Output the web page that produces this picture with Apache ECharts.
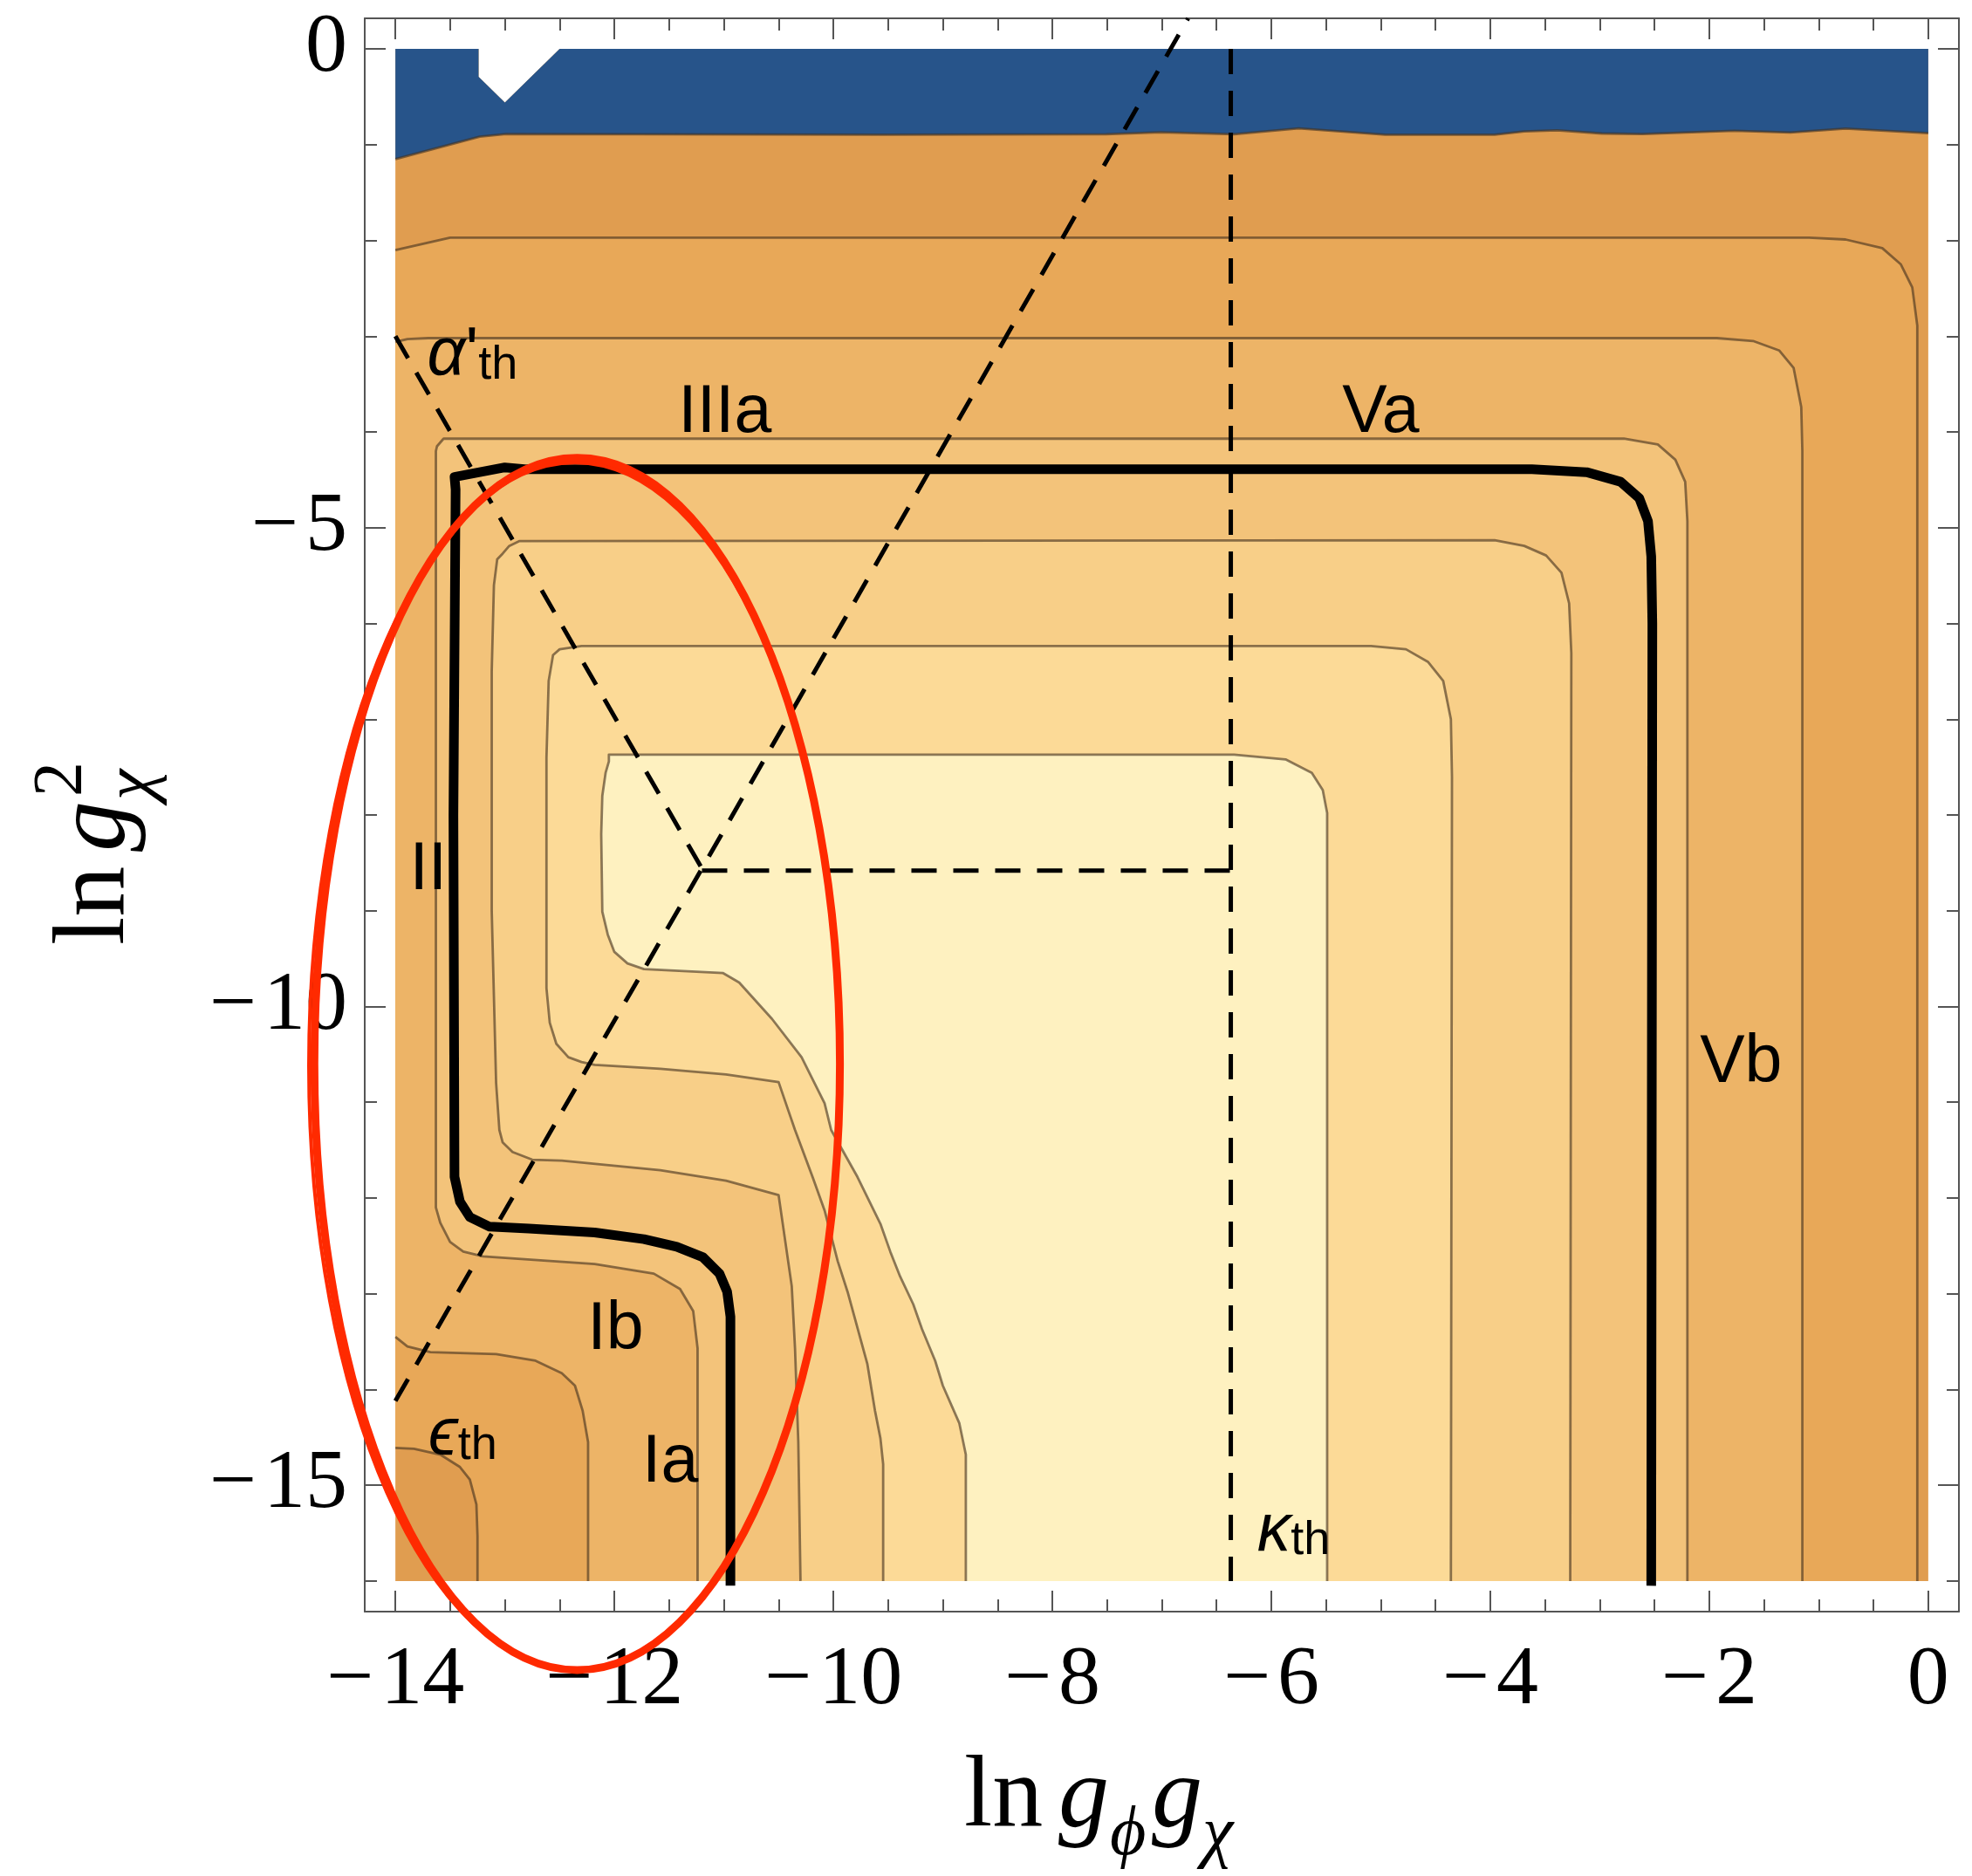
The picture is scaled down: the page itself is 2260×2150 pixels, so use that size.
<!DOCTYPE html>
<html>
<head>
<meta charset="utf-8">
<script src="https://cdn.jsdelivr.net/npm/echarts@6/dist/echarts.min.js"></script>
<style>html,body{margin:0;padding:0;background:#fff}#c{width:2260px;height:2150px}</style>
</head>
<body>
<div id="c"></div>
<script>
// ---------- axis ticks ----------
const xMajorTicks = [-14, -12, -10, -8, -6, -4, -2, 0];
const xMinorTicks = [-14, -13.5, -13, -12.5, -12, -11.5, -11, -10.5, -10, -9.5, -9, -8.5, -8, -7.5, -7, -6.5, -6, -5.5, -5, -4.5, -4, -3.5, -3, -2.5, -2, -1.5, -1, -0.5, 0];
const yMajorTicks = [0, -5, -10, -15];
const yMinorTicks = [0, -1, -2, -3, -4, -5, -6, -7, -8, -9, -10, -11, -12, -13, -14, -15, -16];

// ---------- contour boundaries (ln gφgχ, ln gχ²) ----------
const notch = [[-13.24, 0], [-13.24, -0.29], [-13.0, -0.56], [-12.5, 0]];
const blueEdge = [[-14, -1.15], [-13.23, -0.916], [-12.99, -0.889], [-9.55, -0.896], [-7.51, -0.89], [-7.01, -0.87], [-6.34, -0.89], [-5.75, -0.83], [-4.96, -0.896], [-3.96, -0.896], [-3.69, -0.862], [-3.39, -0.849], [-2.98, -0.883], [-2.61, -0.889], [-1.77, -0.855], [-1.26, -0.873], [-0.755, -0.832], [0, -0.879]];
const c2Top = [[-14, -2.10], [-13.5, -1.97], [-1.09, -1.97], [-0.755, -1.99], [-0.42, -2.08], [-0.25, -2.25], [-0.146, -2.49], [-0.10, -2.89], [-0.10, -16]];
const c2Corner = [[-13.25, -16], [-13.25, -15.53], [-13.26, -15.20], [-13.32, -14.94], [-13.41, -14.81], [-13.59, -14.68], [-13.83, -14.62], [-14, -14.61]];
const c3Top = [[-14, -3.06], [-13.89, -3.03], [-13.7, -3.02], [-1.93, -3.02], [-1.60, -3.05], [-1.36, -3.15], [-1.23, -3.33], [-1.16, -3.74], [-1.15, -4.2], [-1.15, -16]];
const c3Corner = [[-12.24, -16], [-12.24, -14.55], [-12.29, -14.22], [-12.36, -13.96], [-12.48, -13.83], [-12.72, -13.70], [-13.08, -13.63], [-13.68, -13.61], [-13.89, -13.55], [-14, -13.45]];
const c4 = [[-11.24, -16], [-11.24, -13.57], [-11.28, -13.18], [-11.40, -12.95], [-11.64, -12.79], [-12.18, -12.69], [-13.20, -12.61], [-13.38, -12.56], [-13.50, -12.46], [-13.59, -12.26], [-13.63, -12.10], [-13.63, -4.2], [-13.62, -4.15], [-13.56, -4.07], [-2.78, -4.07], [-2.47, -4.13], [-2.31, -4.29], [-2.22, -4.52], [-2.20, -4.93], [-2.20, -16]];
const c5 = [[-10.30, -16], [-10.32, -14.55], [-10.35, -13.57], [-10.38, -12.92], [-10.50, -11.97], [-10.98, -11.82], [-11.58, -11.71], [-12.48, -11.61], [-12.75, -11.60], [-12.93, -11.52], [-13.02, -11.42], [-13.05, -11.29], [-13.08, -10.8], [-13.12, -9.0], [-13.12, -6.5], [-13.10, -5.6], [-13.07, -5.33], [-13.02, -5.27], [-12.96, -5.19], [-12.87, -5.14], [-3.96, -5.13], [-3.69, -5.19], [-3.49, -5.29], [-3.35, -5.47], [-3.28, -5.79], [-3.26, -6.31], [-3.27, -16]];
const c6 = [[-9.545, -16], [-9.545, -14.78], [-9.57, -14.51], [-9.62, -14.22], [-9.69, -13.73], [-9.87, -12.98], [-9.96, -12.66], [-10.08, -12.13], [-10.19, -11.78], [-10.35, -11.29], [-10.41, -11.09], [-10.50, -10.79], [-10.98, -10.71], [-11.58, -10.65], [-12.18, -10.61], [-12.30, -10.58], [-12.42, -10.53], [-12.53, -10.39], [-12.59, -10.17], [-12.62, -9.81], [-12.62, -7.40], [-12.60, -6.60], [-12.56, -6.33], [-12.50, -6.27], [-12.30, -6.235], [-5.09, -6.235], [-4.77, -6.27], [-4.57, -6.40], [-4.43, -6.60], [-4.36, -7.00], [-4.35, -7.60], [-4.36, -16]];
const c7 = [[-8.79, -16], [-8.79, -14.68], [-8.85, -14.35], [-9.00, -13.96], [-9.07, -13.70], [-9.19, -13.37], [-9.27, -13.11], [-9.39, -12.82], [-9.48, -12.56], [-9.57, -12.27], [-9.78, -11.78], [-10.02, -11.29], [-10.08, -11.01], [-10.29, -10.53], [-10.56, -10.13], [-10.86, -9.75], [-11.01, -9.65], [-11.73, -9.61], [-11.88, -9.55], [-12.00, -9.43], [-12.06, -9.25], [-12.11, -9.01], [-12.12, -8.20], [-12.11, -7.80], [-12.08, -7.56], [-12.05, -7.44], [-12.05, -7.37], [-6.34, -7.37], [-5.87, -7.42], [-5.63, -7.56], [-5.53, -7.74], [-5.49, -7.98], [-5.49, -16]];
const boundaryLine = [[-10.94, -16.05], [-10.94, -13.90], [-10.94, -13.24], [-10.97, -12.98], [-11.04, -12.79], [-11.19, -12.62], [-11.43, -12.51], [-11.73, -12.43], [-12.18, -12.36], [-12.78, -12.32], [-13.14, -12.30], [-13.32, -12.20], [-13.41, -12.04], [-13.46, -11.78], [-13.47, -8.0], [-13.45, -4.6], [-13.46, -4.47], [-13.0, -4.37], [-12.8, -4.39], [-3.62, -4.39], [-3.12, -4.42], [-2.81, -4.52], [-2.64, -4.69], [-2.56, -4.93], [-2.53, -5.3], [-2.52, -6.0], [-2.53, -16.05]];

// ---------- threshold lines ----------
const alphaLine = [[-14, -3.0], [-11.2, -8.56]];
const epsDiagLine = [[-14, -14.12], [-11.2, -8.56], [-6.76, 0.32]];
const horizLine = [[-11.2, -8.58], [-6.37, -8.58]];
const kappaLine = [[-6.37, 0], [-6.37, -16]];

// ---------- text labels ----------
const regionLabels = [
  { t: 'IIIa', x: -10.99, y: -3.72 },
  { t: 'Va', x: -5.0, y: -3.72 },
  { t: 'Vb', x: -1.71, y: -10.51 },
  { t: 'II', x: -13.70, y: -8.50 },
  { t: 'Ib', x: -11.99, y: -13.30 },
  { t: 'Ia', x: -11.49, y: -14.69 }
];
const thresholdLabels = [
  { g: 'ϵ', p: '', s: 'th', x: -13.70, yBase: -14.65 },
  { g: 'α', p: "'", s: 'th', x: -13.71, yBase: -3.37 },
  { g: 'κ', p: '', s: 'th', x: -6.13, yBase: -15.65 }
];
const annotation = [
  { cx: -12.34, cy: -10.6, rx: 2.40, ry: 6.33, w: 9 },
  { cx: -12.36, cy: -10.62, rx: 2.43, ry: 6.30, w: 4 }
];

// ---------- styling ----------
const xRange = [-14.28, 0.28];
const yRange = [-16.32, 0.32];
const frameColor = '#555';
const col = { A: '#E09D50', blue: '#27548A', B: '#E8A858', C: '#EDB467', D: '#F3C37A', E: '#F8CF88', F: '#FCDA97', G: '#FEF1C0' };
const contourStyle = { color: 'rgba(70,50,30,0.62)', width: 2.8 };

const polyA = [[-14, 0]].concat(notch, [[0, 0], [0, -16], [-14, -16]]);
const polyBlue = blueEdge.concat([[0, 0]], notch.slice().reverse(), [[-14, 0]]);
const polyB = c2Top.concat(c2Corner);
const polyC = c3Top.concat(c3Corner);

const fmt = v => (v < 0 ? '\u2212\u200A' + Math.abs(v) : String(v));

function xAx(pos, ticks, len, line, labels) {
  return {
    type: 'value', position: pos, min: xRange[0], max: xRange[1],
    axisLine: { show: line, onZero: false, lineStyle: { color: frameColor, width: 2 } },
    axisTick: { show: true, inside: true, length: len, customValues: ticks, lineStyle: { color: frameColor, width: 2 } },
    axisLabel: { show: labels, customValues: ticks, formatter: fmt, fontFamily: 'Liberation Serif', fontSize: 96, color: '#000', margin: 32 },
    splitLine: { show: false }, minorTick: { show: false }
  };
}
function yAx(pos, ticks, len, line, labels) {
  return {
    type: 'value', position: pos, min: yRange[0], max: yRange[1],
    axisLine: { show: line, onZero: false, lineStyle: { color: frameColor, width: 2 } },
    axisTick: { show: true, inside: true, length: len, customValues: ticks, lineStyle: { color: frameColor, width: 2 } },
    axisLabel: { show: labels, customValues: ticks, formatter: fmt, fontFamily: 'Liberation Serif', fontSize: 96, color: '#000', margin: 20 },
    splitLine: { show: false }, minorTick: { show: false }
  };
}

function polySeries(pts, color) {
  return {
    type: 'custom', coordinateSystem: 'cartesian2d', data: [[-7, -8]], z: 1, silent: true, animation: false,
    renderItem: (params, api) => ({ type: 'polygon', shape: { points: pts.map(q => api.coord(q)) }, style: { fill: color } })
  };
}
function lineSeries(pts, style, z, dash) {
  return {
    type: 'line', data: pts, symbol: 'none', showSymbol: false, silent: true, animation: false, z: z,
    lineStyle: Object.assign({ type: dash || 'solid', cap: 'butt', join: 'round' }, style)
  };
}

const series = [
  polySeries(polyA, col.A), polySeries(polyBlue, col.blue), polySeries(polyB, col.B), polySeries(polyC, col.C),
  polySeries(c4, col.D), polySeries(c5, col.E), polySeries(c6, col.F), polySeries(c7, col.G)
];
[blueEdge, c2Top, c2Corner, c3Top, c3Corner, c4, c5, c6, c7].forEach(c => series.push(lineSeries(c, contourStyle, 2)));
series.push(lineSeries(boundaryLine, { color: '#000', width: 11 }, 3));
[alphaLine, epsDiagLine, horizLine, kappaLine].forEach(c => series.push(lineSeries(c, { color: '#000', width: 5 }, 4, [29, 19])));

series.push({
  type: 'custom', coordinateSystem: 'cartesian2d', z: 5, silent: true, animation: false,
  data: regionLabels.map(d => [d.x, d.y]),
  renderItem: (params, api) => {
    const d = regionLabels[params.dataIndex];
    const p = api.coord([d.x, d.y]);
    return { type: 'text', x: p[0], y: p[1] + 9, style: { text: d.t, fontFamily: 'Liberation Sans', fontSize: 77, fill: '#000', align: 'center', verticalAlign: 'middle', textAlign: 'center', textVerticalAlign: 'middle' } };
  }
});
const thRich = {
  g: { fontFamily: 'Liberation Sans', fontStyle: 'italic', fontSize: 77, lineHeight: 76, color: '#000' },
  p: { fontFamily: 'Liberation Sans', fontSize: 77, lineHeight: 76, color: '#000' },
  s: { fontFamily: 'Liberation Sans', fontSize: 54, lineHeight: 35, verticalAlign: 'bottom', color: '#000' }
};
series.push({
  type: 'custom', coordinateSystem: 'cartesian2d', z: 5, silent: true, animation: false,
  data: thresholdLabels.map(d => [d.x, d.yBase]),
  renderItem: (params, api) => {
    const d = thresholdLabels[params.dataIndex];
    const p = api.coord([d.x, d.yBase]);
    const txt = '{g|' + d.g + '}' + (d.p ? '{p|' + d.p + '}' : '') + '{s|' + d.s + '}';
    return { type: 'text', x: p[0], y: p[1] - 18, style: { text: txt, rich: thRich, align: 'left', verticalAlign: 'middle', textAlign: 'left', textVerticalAlign: 'middle' } };
  }
});
series.push({
  type: 'custom', coordinateSystem: 'cartesian2d', z: 6, silent: true, animation: false, clip: false,
  data: annotation.map(d => [d.cx, d.cy]),
  renderItem: (params, api) => {
    const d = annotation[params.dataIndex];
    const c = api.coord([d.cx, d.cy]);
    const s = api.size([d.rx, d.ry]);
    return { type: 'ellipse', shape: { cx: c[0], cy: c[1], rx: s[0], ry: s[1] }, style: { fill: 'none', stroke: '#FF2A00', lineWidth: d.w } };
  }
});

function t(text, x, y, size, italic) {
  return { type: 'text', x: x, y: y, style: { text: text, fontFamily: 'Liberation Serif', fontSize: size, fontStyle: italic ? 'italic' : 'normal', fill: '#000', align: 'left', verticalAlign: 'middle', textAlign: 'left', textVerticalAlign: 'middle' } };
}

const chart = echarts.init(document.getElementById('c'), null, { renderer: 'canvas' });
chart.setOption({
  animation: false,
  backgroundColor: '#fff',
  grid: { left: 418, top: 21, width: 1827, height: 1826 },
  xAxis: [xAx('bottom', xMajorTicks, 24, true, true), xAx('bottom', xMinorTicks, 14, false, false), xAx('top', xMajorTicks, 24, true, false), xAx('top', xMinorTicks, 14, false, false)],
  yAxis: [yAx('left', yMajorTicks, 24, true, true), yAx('left', yMinorTicks, 14, false, false), yAx('right', yMajorTicks, 24, true, false), yAx('right', yMinorTicks, 14, false, false)],
  series: series,
  graphic: [
    { type: 'group', children: [
      t('ln', 1105, 2062, 116, false),
      t('g', 1213, 2062, 116, true),
      t('ϕ', 1272, 2104, 80, true),
      t('g', 1320, 2062, 116, true),
      t('χ', 1378, 2104, 80, true)
    ] },
    { type: 'group', x: 150, y: 1083, rotation: Math.PI / 2, children: [
      t('ln', 0, -39, 116, false),
      t('g', 107, -39, 116, true),
      t('χ', 166, 3, 80, true),
      t('2', 170, -78, 80, false)
    ] }
  ]
});
</script>
</body>
</html>
